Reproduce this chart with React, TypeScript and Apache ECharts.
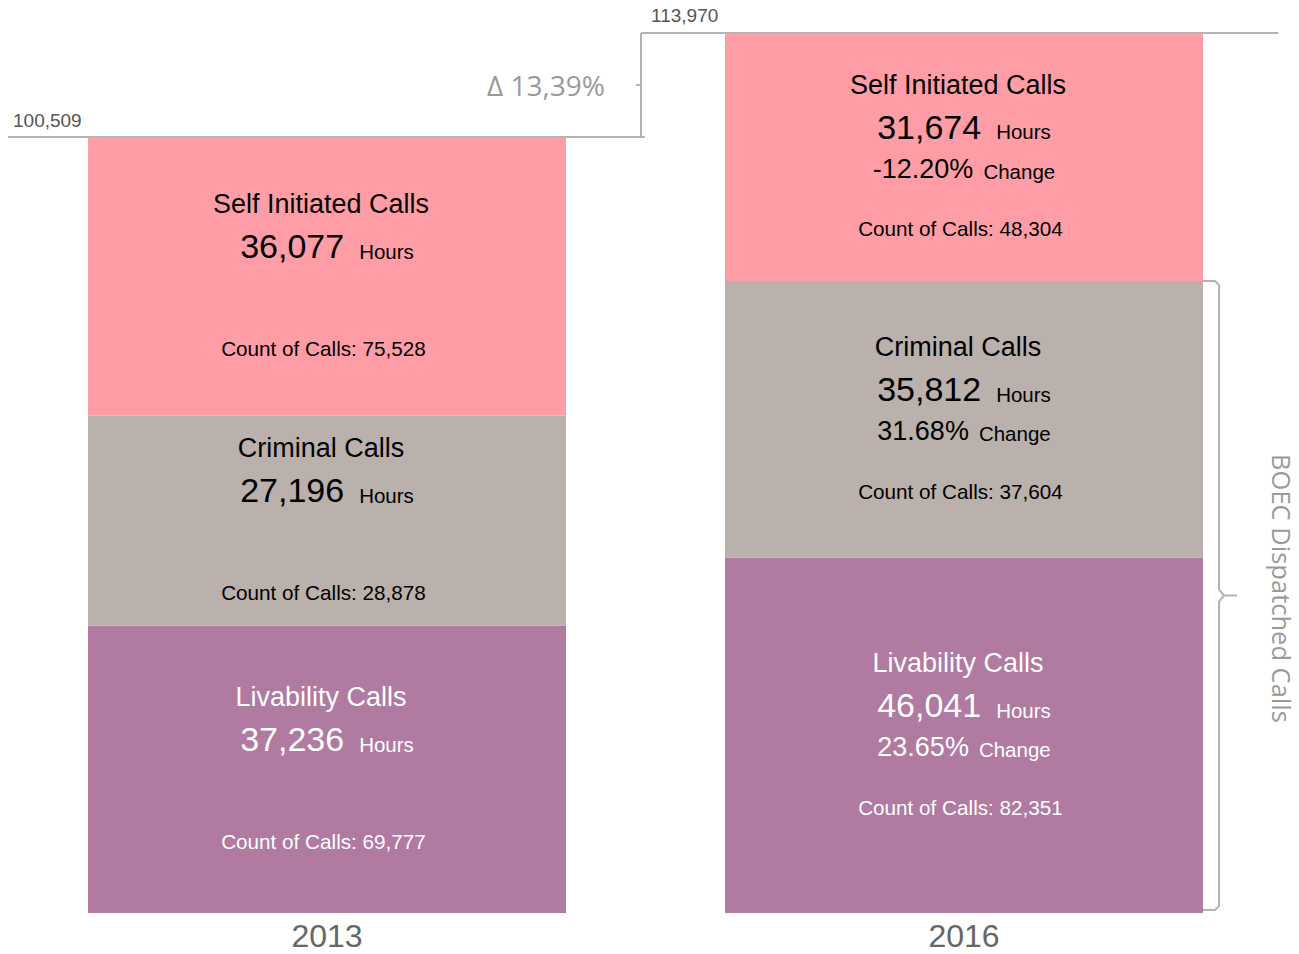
import React, { useEffect, useRef } from "react";
import * as echarts from "echarts";

const years = ["2013", "2016"];
const livabilityHours = [37236, 46041];
const criminalHours = [27196, 35812];
const selfHours = [36077, 31674];
// bar heights as drawn in the picture (the 2016 self-initiated bar reaches the 113,970 total)
const selfBarValues = [36077, 32117];
const totalLabels = [100509, 113970];
const livabilityCount = [69777, 82351];
const criminalCount = [28878, 37604];
const selfCount = [75528, 48304];
const livabilityChange = ["", "23.65%"];
const criminalChange = ["", "31.68%"];
const selfChange = ["", "-12.20%"];
const deltaLabel = "Δ 13,39%";
const sideTitle = "BOEC Dispatched Calls";

const fmt = (n: number) => n.toLocaleString("en-US");
const FONT = "'Liberation Sans', Arial, sans-serif";

function labelText(title: string, hours: number, change: string, count: number) {
  const changeLine = change ? `{c|${change}}{ch|Change}` : "{c| }";
  return `{t|${title}}\n{v|${fmt(hours)}}{h|Hours}\n${changeLine}\n{s| }\n{n|Count of Calls: ${fmt(count)}}`;
}

function rich(color: string) {
  return {
    t: { fontSize: 27, lineHeight: 42, color, fontFamily: FONT, padding: [0, 12, 0, 0] },
    v: { fontSize: 34, lineHeight: 42, color, fontFamily: FONT },
    h: { fontSize: 20.5, color, fontFamily: FONT, padding: [10, 0, 0, 15] },
    c: { fontSize: 27, lineHeight: 42, color, fontFamily: FONT },
    ch: { fontSize: 20.5, color, fontFamily: FONT, padding: [5, 0, 0, 10] },
    s: { fontSize: 1, lineHeight: 18, color },
    n: { fontSize: 20.7, lineHeight: 42, color, fontFamily: FONT, padding: [0, 7, 0, 0] },
  };
}

function makeSeries(
  name: string,
  barValues: number[],
  hours: number[],
  counts: number[],
  changes: string[],
  color: string,
  textColor: string
) {
  return {
    name,
    type: "bar",
    stack: "total",
    barWidth: 478,
    data: barValues,
    itemStyle: { color },
    label: {
      show: true,
      position: "inside",
      align: "center",
      verticalAlign: "middle",
      formatter: (p: any) => labelText(name, hours[p.dataIndex], changes[p.dataIndex], counts[p.dataIndex]),
      rich: rich(textColor),
    },
  };
}

export default function App() {
  const ref = useRef<HTMLDivElement>(null);
  useEffect(() => {
    const chart = echarts.init(ref.current!, null, { renderer: "svg" });
    chart.setOption({
      animation: false,
      grid: { left: 8.5, right: 16.5, top: 33, bottom: 41 },
      xAxis: {
        type: "category",
        data: years,
        axisLine: { show: false },
        axisTick: { show: false },
        axisLabel: { fontSize: 32, lineHeight: 30, color: "#666", fontFamily: FONT, margin: 8 },
      },
      yAxis: { type: "value", min: 0, max: totalLabels[1], show: false, splitLine: { show: false } },
      series: [
        makeSeries("Livability Calls", livabilityHours, livabilityHours, livabilityCount, livabilityChange, "#B07AA1", "#ffffff"),
        makeSeries("Criminal Calls", criminalHours, criminalHours, criminalCount, criminalChange, "#BAB0AC", "#000000"),
        makeSeries("Self Initiated Calls", selfBarValues, selfHours, selfCount, selfChange, "#FF9DA7", "#000000"),
      ],
    });

    const x13 = chart.convertToPixel({ xAxisIndex: 0 }, years[0]) as number;
    const x16 = chart.convertToPixel({ xAxisIndex: 0 }, years[1]) as number;
    const yT13 = chart.convertToPixel({ yAxisIndex: 0 }, totalLabels[0]) as number;
    const yT16 = chart.convertToPixel({ yAxisIndex: 0 }, totalLabels[1]) as number;
    const yB = chart.convertToPixel({ yAxisIndex: 0 }, livabilityHours[1] + criminalHours[1]) as number;
    const y0 = chart.convertToPixel({ yAxisIndex: 0 }, 0) as number;
    const lineStyle = { stroke: "#b3b3b3", lineWidth: 2, fill: "none" };
    const xb = x16 + 255;
    const ybot = y0 - 3;
    const ymid = (yB + ybot) / 2;
    const xr = x16 + 239;

    chart.setOption({
      graphic: [
        { type: "line", shape: { x1: x13 - 319, y1: yT13, x2: x13 + 318, y2: yT13 }, style: lineStyle },
        {
          type: "text",
          x: x13 - 314,
          y: yT13 - 16,
          style: { text: fmt(totalLabels[0]), fontSize: 19, fontFamily: FONT, fill: "#555", align: "left", verticalAlign: "middle" },
        },
        { type: "line", shape: { x1: x16 - 323, y1: yT16, x2: x16 + 314, y2: yT16 }, style: lineStyle },
        { type: "line", shape: { x1: x16 - 323, y1: yT16, x2: x16 - 323, y2: yT13 }, style: lineStyle },
        {
          type: "line",
          shape: { x1: x16 - 328, y1: (yT16 + yT13) / 2, x2: x16 - 323, y2: (yT16 + yT13) / 2 },
          style: lineStyle,
        },
        {
          type: "text",
          x: x16 - 359,
          y: (yT16 + yT13) / 2,
          style: {
            text: deltaLabel,
            fontSize: 28,
            fontFamily: "'Open Sans', sans-serif",
            fill: "#9a9a9a",
            align: "right",
            verticalAlign: "middle",
          },
        },
        {
          type: "text",
          x: x16 - 313,
          y: yT16 - 18,
          style: { text: fmt(totalLabels[1]), fontSize: 19, fontFamily: FONT, fill: "#555", align: "left", verticalAlign: "middle" },
        },
        {
          type: "polyline",
          shape: {
            points: [
              [xr, yB],
              [xb - 4, yB],
              [xb, yB + 4],
              [xb, ymid - 6],
              [xb + 5, ymid],
              [xb, ymid + 6],
              [xb, ybot - 4],
              [xb - 4, ybot],
              [xr, ybot],
            ],
          },
          style: lineStyle,
        },
        { type: "line", shape: { x1: xb + 5, y1: ymid, x2: xb + 18, y2: ymid }, style: lineStyle },
        {
          type: "text",
          x: x16 + 318,
          y: ymid - 7,
          rotation: -Math.PI / 2,
          style: {
            text: sideTitle,
            fontSize: 25.5,
            lineHeight: 24,
            fontFamily: "'Open Sans', sans-serif",
            fill: "#9a9a9a",
            align: "center",
            verticalAlign: "middle",
          },
        },
      ],
    });
    return () => chart.dispose();
  }, []);
  return <div ref={ref} style={{ position: "absolute", left: 0, top: 0, width: 1299, height: 954 }} />;
}
